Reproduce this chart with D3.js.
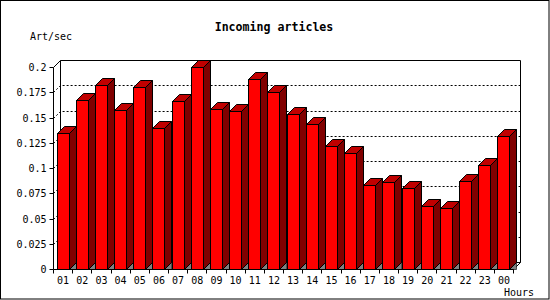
<!DOCTYPE html>
<html>
<head>
<meta charset="utf-8">
<script src="https://cdn.jsdelivr.net/npm/d3@7"></script>
<style>
  html, body { margin: 0; padding: 0; background: #fff; }
  svg { display: block; }
</style>
</head>
<body>
<div id="chart"></div>
<script>
// Hourly incoming article rate
const hours = ['01','02','03','04','05','06','07','08','09','10','11','12',
               '13','14','15','16','17','18','19','20','21','22','23','00'];
const artPerSec = [0.135, 0.167, 0.182, 0.157, 0.180, 0.140, 0.166, 0.200,
                   0.158, 0.156, 0.188, 0.175, 0.153, 0.144, 0.122, 0.115,
                   0.083, 0.086, 0.080, 0.062, 0.060, 0.087, 0.103, 0.132];
const yTicks = [0, 0.025, 0.05, 0.075, 0.1, 0.125, 0.15, 0.175, 0.2];
const gridValues = [0.025, 0.05, 0.075, 0.1, 0.125, 0.15, 0.175];

const width = 550;
const height = 300;
const depthX = 7;    // 3d offset
const depthY = 7;
const font = '"DejaVu Sans Mono", monospace';

const svg = d3.select('#chart')
  .append('svg')
  .attr('width', width)
  .attr('height', height);

// Outer border
svg.append('rect')
  .attr('x', 0.5).attr('y', 0.5)
  .attr('width', width - 1.5).attr('height', height - 1.5)
  .attr('fill', '#fff')
  .attr('stroke', '#000');

const x = d3.scaleBand()
  .domain(hours)
  .range([53.5, 513.5])
  .paddingInner(0)
  .paddingOuter(0);

const y = d3.scaleLinear()
  .domain([0, 0.2])
  .range([269.5, 67.5]);

const py = v => Math.round(y(v) - 0.5) + 0.5;   // snap to pixel centres
const x0 = x.range()[0], x1 = x.range()[1];
const yTop = py(0.2), yBase = py(0);

// Back wall frame
svg.append('path')
  .attr('d', `M${x0},${yTop} L${x0 + depthX},${yTop - depthY} L${x1 + depthX},${yTop - depthY} L${x1 + depthX},${yBase - depthY} L${x1},${yBase}`)
  .attr('fill', 'none')
  .attr('stroke', '#000');
svg.append('line')
  .attr('x1', x0 + depthX).attr('x2', x0 + depthX)
  .attr('y1', yTop - depthY).attr('y2', yBase - depthY)
  .attr('stroke', '#000');
svg.append('line')
  .attr('x1', x0 + depthX).attr('x2', x1 + depthX)
  .attr('y1', yBase - depthY).attr('y2', yBase - depthY)
  .attr('stroke', '#000');

// Dotted grid lines (diagonal from front axis, then along back wall)
svg.selectAll('.grid')
  .data(gridValues)
  .enter()
  .append('path')
  .attr('class', 'grid')
  .attr('d', d => `M${x0},${py(d)} L${x0 + depthX},${py(d) - depthY} L${x1 + depthX},${py(d) - depthY}`)
  .attr('fill', 'none')
  .attr('stroke', '#000')
  .attr('stroke-dasharray', '2,2');

// Bars
const barW = 12;
const bx0 = d => Math.round(x(d.h) + 3) + 0.5;
const bars = svg.selectAll('.bar')
  .data(hours.map((h, i) => ({ h, v: artPerSec[i] })))
  .enter()
  .append('g')
  .attr('class', 'bar');

// floor shadow under side face
bars.append('path')
  .attr('d', d => {
    const bx = bx0(d) + barW;
    return `M${bx},${yBase} L${bx + depthX},${yBase - depthY} L${bx + depthX},${yBase} Z`;
  })
  .attr('fill', '#808080')
  .attr('stroke', '#000')
  .attr('stroke-width', 0.6);

bars.append('path')
  .attr('d', d => {
    const bx = bx0(d) + barW;
    const ty = py(d.v);
    return `M${bx},${ty} L${bx + depthX},${ty - depthY} L${bx + depthX},${yBase - depthY} L${bx},${yBase} Z`;
  })
  .attr('fill', '#800000')
  .attr('stroke', '#000');

bars.append('path')
  .attr('d', d => {
    const bx = bx0(d);
    const ty = py(d.v);
    return `M${bx},${ty} L${bx + depthX},${ty - depthY} L${bx + barW + depthX},${ty - depthY} L${bx + barW},${ty} Z`;
  })
  .attr('fill', '#c00000')
  .attr('stroke', '#000');

bars.append('rect')
  .attr('x', d => bx0(d))
  .attr('y', d => py(d.v))
  .attr('width', barW)
  .attr('height', d => yBase - py(d.v))
  .attr('fill', '#ff0000')
  .attr('stroke', '#000');

// Y axis
const yAxis = svg.append('g')
  .attr('transform', `translate(${x0},0)`)
  .call(d3.axisLeft(y).tickValues(yTicks).tickFormat(d => String(d)).tickSize(4).tickPadding(3));
yAxis.select('.domain').attr('d', `M-0,${yTop}V${yBase}`);
yAxis.selectAll('.tick').attr('transform', d => `translate(0,${py(d)})`);
yAxis.selectAll('text')
  .attr('font-family', font)
  .attr('font-size', '10px')
  .attr('fill', '#000');

// X axis: labels at band centres, ticks at band edges
const xAxis = svg.append('g')
  .attr('transform', `translate(0,${yBase})`)
  .call(d3.axisBottom(x).tickSize(0).tickPadding(7));
xAxis.select('.domain').attr('d', `M${x0},0H${x1}`);
xAxis.selectAll('text')
  .attr('font-family', font)
  .attr('font-size', '10px')
  .attr('fill', '#000');
xAxis.selectAll('.edge')
  .data(hours.concat(['end']))
  .enter()
  .append('line')
  .attr('class', 'edge')
  .attr('x1', (d, i) => Math.round(x0 + i * x.step() - 0.5) + 0.5)
  .attr('x2', (d, i) => Math.round(x0 + i * x.step() - 0.5) + 0.5)
  .attr('y1', 0).attr('y2', 4)
  .attr('stroke', '#000');

// Titles
svg.append('text')
  .attr('x', 274)
  .attr('y', 31)
  .attr('text-anchor', 'middle')
  .attr('font-family', font)
  .attr('font-size', '11.6px')
  .attr('font-weight', 'bold')
  .text('Incoming articles');

svg.append('text')
  .attr('x', 30)
  .attr('y', 40)
  .attr('font-family', font)
  .attr('font-size', '10px')
  .text('Art/sec');

svg.append('text')
  .attr('x', 504)
  .attr('y', 296)
  .attr('font-family', font)
  .attr('font-size', '10px')
  .text('Hours');
</script>
</body>
</html>
